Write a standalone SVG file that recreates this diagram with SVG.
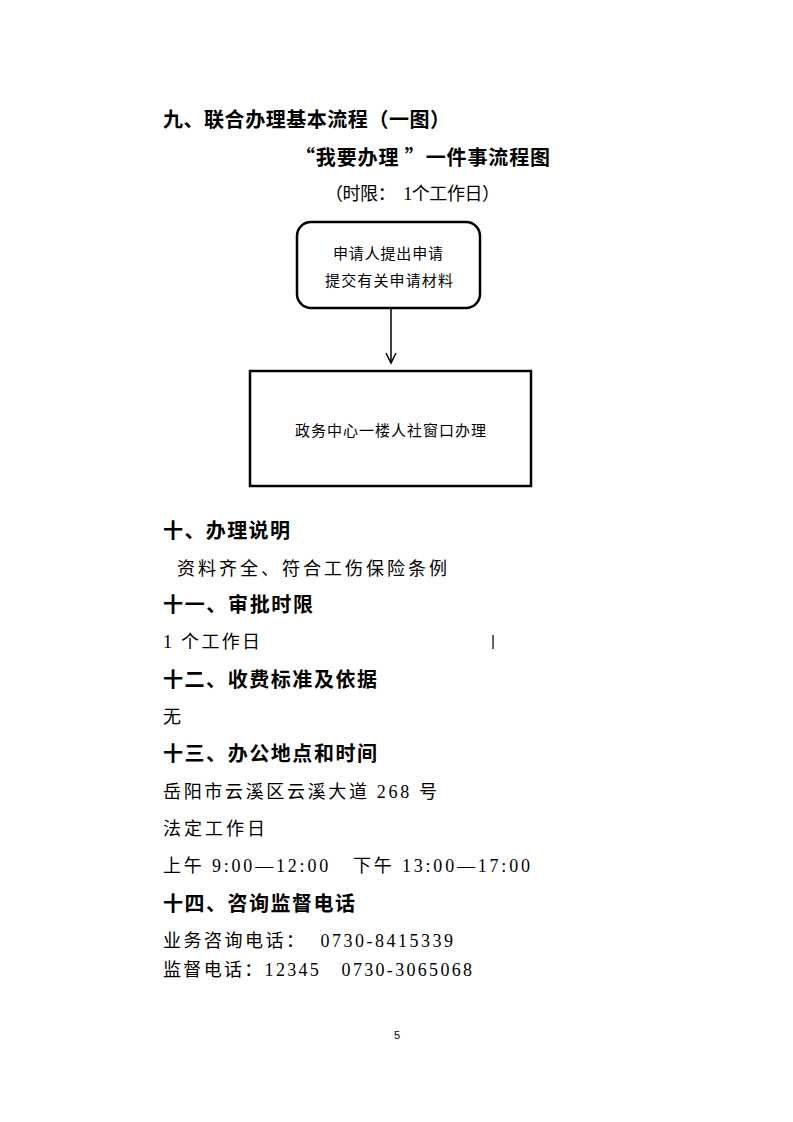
<svg xmlns="http://www.w3.org/2000/svg" width="793" height="1122" viewBox="0 0 793 1122">
<defs>
<style>
.h{font-family:"Noto Sans CJK SC","Liberation Sans",sans-serif;font-weight:bold;font-size:20px;fill:#000}
.b{font-family:"Liberation Serif","Noto Sans CJK SC",serif;font-size:18px;fill:#000}
.n{font-family:"Noto Sans CJK SC",sans-serif;font-size:15px;fill:#000}
.box{fill:#fff;stroke:#000;stroke-width:2.5}
.conn{fill:none;stroke:#000;stroke-width:1.5}
</style>
</defs>
<rect width="793" height="1122" fill="#fff"/>
<text class="h" x="163" y="127" textLength="287" lengthAdjust="spacing">九、联合办理基本流程（一图）</text>
<text class="h" x="295" y="165" textLength="255" lengthAdjust="spacing" xml:space="preserve">“我要办理 ”一件事流程图</text>
<text class="b" x="325" y="200" textLength="175" lengthAdjust="spacing" xml:space="preserve">（时限：  1个工作日）</text>

<g id="node-apply">
<rect class="box" x="297" y="222" width="183" height="86" rx="14"/>
<text class="n" x="333" y="259" textLength="110" lengthAdjust="spacing">申请人提出申请</text>
<text class="n" x="325" y="286" textLength="128" lengthAdjust="spacing">提交有关申请材料</text>
</g>
<g id="node-window">
<rect class="box" x="250" y="371" width="281" height="115"/>
<text class="n" x="295" y="436" textLength="191" lengthAdjust="spacing">政务中心一楼人社窗口办理</text>
</g>
<g id="connectors">
<line class="conn" x1="391" y1="308" x2="391" y2="362"/>
<polyline class="conn" points="386,353 391,363 396,353"/>
</g>

<text class="h" x="163" y="538" textLength="127" lengthAdjust="spacing">十、办理说明</text>
<text class="b" x="177" y="575" textLength="270" lengthAdjust="spacing">资料齐全、符合工伤保险条例</text>
<text class="h" x="163" y="612" textLength="150" lengthAdjust="spacing">十一、审批时限</text>
<text class="b" x="163" y="648" textLength="97" lengthAdjust="spacing">1 个工作日</text>
<text x="491" y="646" font-family="Liberation Sans,sans-serif" font-size="15" fill="#000">|</text>
<text class="h" x="163" y="687" textLength="214" lengthAdjust="spacing">十二、收费标准及依据</text>
<text class="b" x="163" y="723">无</text>
<text class="h" x="163" y="761" textLength="214" lengthAdjust="spacing">十三、办公地点和时间</text>
<text class="b" x="163" y="798" textLength="274" lengthAdjust="spacing">岳阳市云溪区云溪大道 268 号</text>
<text class="b" x="163" y="835" textLength="102" lengthAdjust="spacing">法定工作日</text>
<text class="b" x="163" y="872" textLength="367" lengthAdjust="spacing" xml:space="preserve">上午 9:00—12:00   下午 13:00—17:00</text>
<text class="h" x="163" y="911" textLength="192" lengthAdjust="spacing">十四、咨询监督电话</text>
<text class="b" x="163" y="947" textLength="290" lengthAdjust="spacing" xml:space="preserve">业务咨询电话：  0730-8415339</text>
<text class="b" x="163" y="976" textLength="309" lengthAdjust="spacing" xml:space="preserve">监督电话：12345   0730-3065068</text>
<text x="397" y="1039" font-family="Liberation Sans,sans-serif" font-size="11" fill="#000" text-anchor="middle">5</text>
</svg>
